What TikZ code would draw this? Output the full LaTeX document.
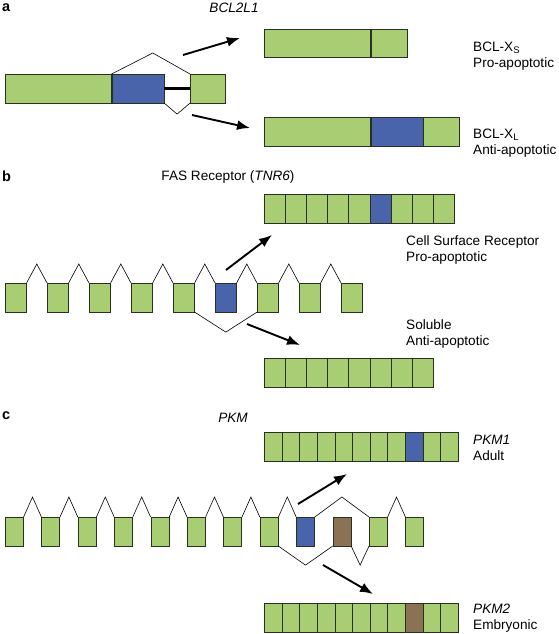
\documentclass[tikz,border=0pt]{standalone}
\usepackage{fontspec}
\setmainfont{Liberation Sans}
\usetikzlibrary{positioning,calc,arrows.meta}

\definecolor{exgreen}{RGB}{169,205,114}
\definecolor{exblue}{RGB}{74,100,172}
\definecolor{exbrown}{RGB}{139,114,84}
\definecolor{exline}{RGB}{40,48,30}

\tikzset{
  exon/.style={draw=exline, line width=0.6pt, fill=exgreen, inner sep=0pt, minimum height=28.5pt, anchor=north west},
  intron/.style={draw=black, line width=0.6pt},
  splice/.style={-{Latex[length=13pt,width=10pt]}, line width=1.9pt},
  lbl/.style={anchor=west, align=left, inner sep=0pt, font=\fontsize{13.6}{16.5}\selectfont},
  gene/.style={inner sep=0pt, font=\fontsize{13.6}{16.5}\selectfont\itshape},
  panel/.style={anchor=west, inner sep=0pt, font=\fontsize{14.5}{16}\selectfont\bfseries},
}

\begin{document}
\begin{tikzpicture}[x=1pt,y=-1pt]
  \useasboundingbox (0,0) rectangle (558,634);

  % Panel a

  \node[panel] (pa) at (2,8) {a} ; %
  \node[gene]  (gBCL) at (234,8) {BCL2L1} ; %

  \node[exon, minimum width=106pt]                              (a1) at (5,74) {} ; %
  \node[exon, fill=exblue, minimum width=52pt, right=0pt of a1] (a2) {} ; %
  \node[exon, minimum width=35pt]                               (a3) at (190,74) {} ; %

  \draw[line width=3pt] (a2.east) -- (a3.west);
  \draw[intron] (a1.north east) -- ($(a1.north east)!.5!(a3.north west)+(2,-21)$) -- (a3.north west);
  \draw[intron] (a2.south east) -- ($(a2.south east)!.5!(a3.south west)+(0,11)$) -- (a3.south west);

  \node[exon, minimum width=106pt]                               (xs1) at (264,29) {} ; %
  \node[exon, minimum width=36pt, right=0pt of xs1]              (xs2) {} ; %
  \node[exon, minimum width=106pt]                               (xl1) at (264,117) {} ; %
  \node[exon, fill=exblue, minimum width=52pt, right=0pt of xl1] (xl2) {} ; %
  \node[exon, minimum width=36pt, right=0pt of xl2]              (xl3) {} ; %

  \node[lbl] (lxs) at (473,56)  {BCL-X\textsubscript{S}\\Pro-apoptotic} ; %
  \node[lbl] (lxl) at (473,143) {BCL-X\textsubscript{L}\\Anti-apoptotic} ; %

  \coordinate (aUs) at (183,55);  \coordinate (aUe) at (240,38);
  \coordinate (aDs) at (192,115); \coordinate (aDe) at (250,128);
  \draw[splice] (aUs) -- (aUe);
  \draw[splice] (aDs) -- (aDe);

  % Panel b

  \node[panel] (pb) at (2,176) {b} ; %
  \node[gene, font=\fontsize{13.6}{16.5}\selectfont] (gFAS) at (228,177) {FAS Receptor (\textit{TNR6})} ; %

  \foreach \c [count=\i from 0] in {exgreen,exgreen,exgreen,exgreen,exgreen,exblue,exgreen,exgreen,exgreen}
    \node[exon, fill=\c, minimum width=21pt] (b\i) at (5+42*\i,283) {};
  \foreach \i [evaluate=\i as \j using int(\i+1)] in {0,...,7}
    \draw[intron] (b\i.north east) -- ($(b\i.north east)!.5!(b\j.north west)+(0,-19)$) -- (b\j.north west);
  \draw[intron] (b4.south east) -- ($(b4.south east)!.5!(b6.south west)+(0,20)$) -- (b6.south west);

  \foreach \c [count=\i from 0] in {exgreen,exgreen,exgreen,exgreen,exgreen,exblue,exgreen,exgreen,exgreen}
    \node[exon, fill=\c, minimum width=21.1pt] (fr\i) at (264+21.1*\i,194) {};
  \foreach \i in {0,...,7}
    \node[exon, minimum width=21.1pt] (fs\i) at (264+21.1*\i,358) {};

  \node[lbl] (lfr) at (406,250) {Cell Surface Receptor\\Pro-apoptotic} ; %
  \node[lbl] (lfs) at (406,334) {Soluble\\Anti-apoptotic} ; %

  \coordinate (bUs) at (226,270); \coordinate (bUe) at (272,235);
  \coordinate (bDs) at (247,324); \coordinate (bDe) at (300,345);
  \draw[splice] (bUs) -- (bUe);
  \draw[splice] (bDs) -- (bDe);

  % Panel c

  \node[panel] (pc) at (2,416) {c} ; %
  \node[gene]  (gPKM) at (233,418) {PKM} ; %

  \foreach \c [count=\i from 0] in {exgreen,exgreen,exgreen,exgreen,exgreen,exgreen,exgreen,exgreen,exblue,exbrown,exgreen,exgreen}
    \node[exon, fill=\c, minimum width=18pt] (c\i) at (5+36.4*\i,517) {};
  \foreach \i [evaluate=\i as \j using int(\i+1)] in {0,...,7,10}
    \draw[intron] (c\i.north east) -- ($(c\i.north east)!.5!(c\j.north west)+(0,-20)$) -- (c\j.north west);
  \draw[intron] (c8.north east) -- ($(c8.north east)!.5!(c10.north west)+(0,-20)$) -- (c10.north west);
  \draw[intron] (c7.south east) -- ($(c7.south east)!.5!(c9.south west)+(0,19)$) -- (c9.south west);
  \draw[intron] (c9.south east) -- ($(c9.south east)!.5!(c10.south west)+(0,19)$) -- (c10.south west);

  \foreach \c [count=\i from 0] in {exgreen,exgreen,exgreen,exgreen,exgreen,exgreen,exgreen,exgreen,exblue,exgreen,exgreen}
    \node[exon, fill=\c, minimum width=17.64pt] (pkA\i) at (264+17.64*\i,432) {};
  \foreach \c [count=\i from 0] in {exgreen,exgreen,exgreen,exgreen,exgreen,exgreen,exgreen,exgreen,exbrown,exgreen,exgreen}
    \node[exon, fill=\c, minimum width=17.64pt] (pkB\i) at (264+17.64*\i,603) {};

  \node[lbl] (lpkA) at (473,448) {\textit{PKM1}\\Adult} ; %
  \node[lbl] (lpkB) at (473,618) {\textit{PKM2}\\Embryonic} ; %

  \coordinate (cUs) at (298,504); \coordinate (cUe) at (347,474);
  \coordinate (cDs) at (323,565); \coordinate (cDe) at (373,594);
  \draw[splice] (cUs) -- (cUe);
  \draw[splice] (cDs) -- (cDe);

\end{tikzpicture}
\end{document}
